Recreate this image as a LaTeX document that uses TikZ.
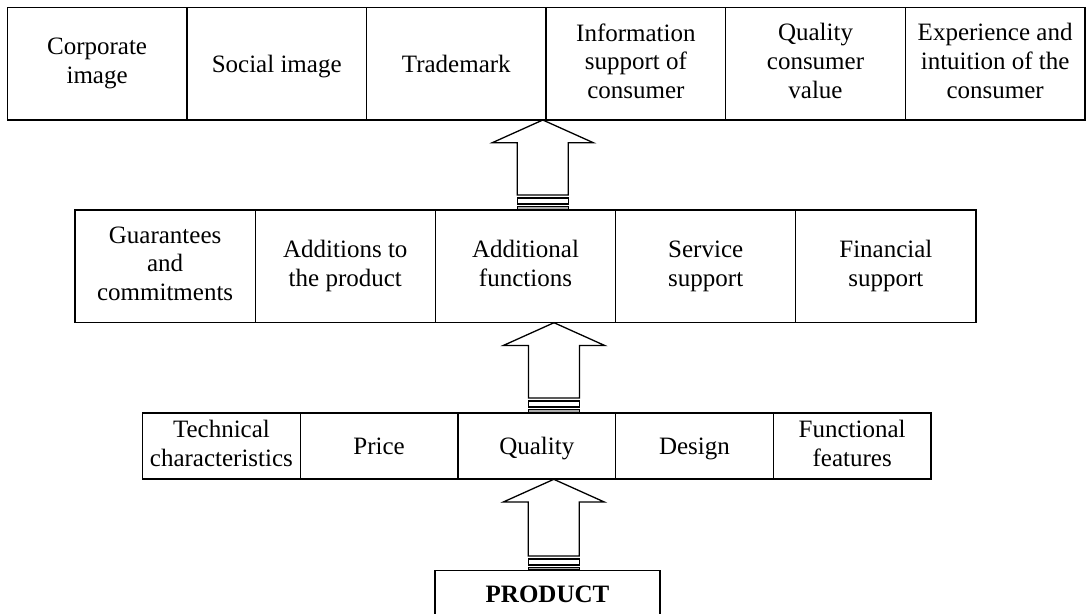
\documentclass[tikz,border=0pt]{standalone}
\usepackage{fontspec}
\setmainfont{Liberation Serif}
\newcommand{\topstrut}{\rule{0pt}{23pt}}
\newcommand{\botstrut}{\rule[-5.7pt]{0pt}{5.7pt}}
\begin{document}
\begin{tikzpicture}[x=1pt,y=-1pt,
  box/.style={draw, line width=1.3pt, inner sep=0pt, align=center,
    font=\fontsize{25pt}{28.75pt}\selectfont,
    execute at begin node=\topstrut, execute at end node=\botstrut},
  toprow/.style={box, minimum width=179.6pt, minimum height=112.6pt},
  midrow/.style={box, minimum width=180.2pt, minimum height=112.7pt},
  lowrow/.style={box, minimum width=157.7pt, minimum height=66pt},
  arr/.style={draw, line width=1.3pt, fill=white, line join=miter},
  band/.style={arr, fill=gray!65}]
\useasboundingbox (0,0) rectangle (1086,613);
\fill[white] (0,0) rectangle (1086,613);
\newcommand{\blockarrow}[4]{%
  \draw[arr] (#1,#2) -- (#1+50.5,#2+22.7) -- (#1+25.5,#2+22.7) -- (#1+25.5,#3)
     -- (#1-25.5,#3) -- (#1-25.5,#2+22.7) -- (#1-50.5,#2+22.7) -- cycle;
  \draw[arr] (#1-25.5,#3+3) rectangle (#1+25.5,#3+9);
  \draw[band] (#1-25.5,#3+11.5) rectangle (#1+25.5,#4);
}
% top row
\node[toprow] (t1) at (97.1,63.8) {Corporate\\image};
\node[toprow] (t2) at (276.7,63.8) {Social image};
\node[toprow] (t3) at (456.3,63.8) {Trademark};
\node[toprow] (t4) at (635.9,63.8) {Information\\support of\\consumer};
\node[toprow] (t5) at (815.5,63.8) {Quality\\consumer\\value};
\node[toprow] (t6) at (995.1,63.8) {Experience and\\intuition of the\\consumer};
% middle row
\node[midrow] (m1) at (165.1,266.4) {Guarantees\\and\\commitments};
\node[midrow] (m2) at (345.3,266.4) {Additions to\\the product};
\node[midrow] (m3) at (525.5,266.4) {Additional\\functions};
\node[midrow] (m4) at (705.7,266.4) {Service\\support};
\node[midrow] (m5) at (885.9,266.4) {Financial\\support};
% lower row
\node[lowrow] (b1) at (221.4,446) {Technical\\characteristics};
\node[lowrow] (b2) at (379.1,446) {Price};
\node[lowrow] (b3) at (536.8,446) {Quality};
\node[lowrow] (b4) at (694.5,446) {Design};
\node[lowrow] (b5) at (852.2,446) {Functional\\features};
% product
\node[draw, line width=1.3pt, inner sep=0pt, minimum width=225pt,
  minimum height=50pt, anchor=north] (product) at (547.5,570) {};
\node[anchor=base, inner sep=0pt, font=\fontsize{25pt}{28.75pt}\selectfont\bfseries]
  (ptext) at (547.5,602.7) {PRODUCT};
% block arrows
\blockarrow{542.8}{120}{195}{210}
\blockarrow{554}{322.7}{398}{413}
\blockarrow{553.8}{479.3}{556}{570}
\end{tikzpicture}
\end{document}
